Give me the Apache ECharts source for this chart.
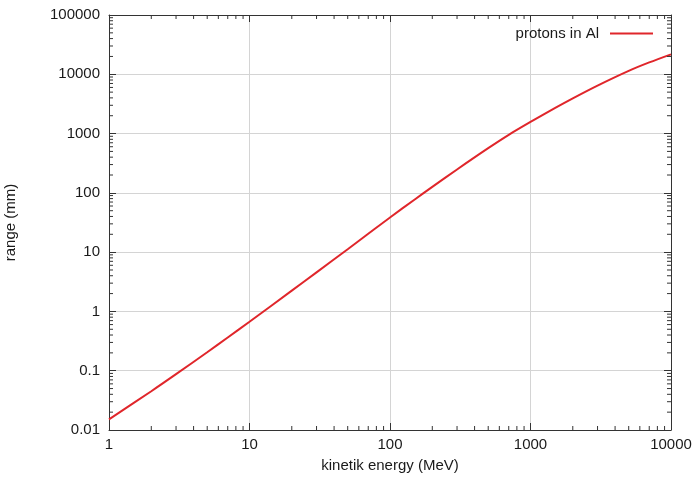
<!DOCTYPE html>
<html>
<head>
<meta charset="utf-8">
<script src="https://cdn.jsdelivr.net/npm/echarts@6/dist/echarts.min.js"></script>
<style>
  html, body { margin: 0; padding: 0; background: #fff; }
  #chart { width: 697px; height: 479px; }
</style>
</head>
<body>
<div id="chart"></div>
<script>
// CSDA range of protons in aluminium versus kinetic energy
const energy = [1, 2, 3, 5, 7, 10, 20, 30, 50, 70, 100, 150, 200, 300, 500, 700, 1000, 1500, 2000, 3000, 5000, 7000, 10000];
const range  = [0.0151, 0.0451, 0.0874, 0.205, 0.363, 0.671, 2.24, 4.56, 11.2, 20.4, 38.5, 77.3, 126, 248, 567, 952, 1570, 2710, 3930, 6450, 11430, 15850, 21700];

const seriesName = 'protons in Al';
const xTicks = [1, 10, 100, 1000, 10000];
const yTicks = [0.01, 0.1, 1, 10, 100, 1000, 10000, 100000];

// minor ticks at 2..9 within each decade
function minorTicks(majors) {
  const out = [];
  for (let i = 0; i < majors.length - 1; i++) {
    for (let k = 2; k <= 9; k++) out.push(+(majors[i] * k).toPrecision(6));
  }
  return out;
}
const xMinor = minorTicks(xTicks);
const yMinor = minorTicks(yTicks);

const FONT = '"Liberation Sans", Arial, Helvetica, sans-serif';
const FONT_SIZE = 15;
const TEXT = '#1a1a1a';
const BORDER = '#333';
const MAJOR_LEN = 7;
const MINOR_LEN = 4;

const xMin = xTicks[0], xMax = xTicks[xTicks.length - 1];
const yMin = yTicks[0], yMax = yTicks[yTicks.length - 1];

// mirrored axis on the opposite side: border line plus decade ticks
function mirrorAxis(min, max, splitNumber, position) {
  return {
    type: 'log', logBase: 10, min: min, max: max, splitNumber: splitNumber,
    position: position,
    axisLine: { show: true, onZero: false, lineStyle: { color: BORDER, width: 1 } },
    axisTick: { show: true, inside: true, length: MAJOR_LEN, lineStyle: { color: BORDER, width: 1 } },
    axisLabel: { show: false },
    splitLine: { show: false },
    silent: true
  };
}

// short inward tick marks at the minor values, on both opposite edges
function minorTickSeries(values, horizontal) {
  return {
    type: 'custom',
    silent: true,
    xAxisIndex: 0,
    yAxisIndex: 0,
    z: 5,
    data: values.map(v => [v]),
    renderItem: function (params, api) {
      const v = api.value(0);
      const style = { stroke: BORDER, lineWidth: 1 };
      let a, b;
      if (horizontal) {
        a = api.coord([v, yMin]);
        b = api.coord([v, yMax]);
        return { type: 'group', children: [
          { type: 'line', shape: { x1: a[0], y1: a[1], x2: a[0], y2: a[1] - MINOR_LEN }, style: style },
          { type: 'line', shape: { x1: b[0], y1: b[1], x2: b[0], y2: b[1] + MINOR_LEN }, style: style }
        ] };
      }
      a = api.coord([xMin, v]);
      b = api.coord([xMax, v]);
      return { type: 'group', children: [
        { type: 'line', shape: { x1: a[0], y1: a[1], x2: a[0] + MINOR_LEN, y2: a[1] }, style: style },
        { type: 'line', shape: { x1: b[0], y1: b[1], x2: b[0] - MINOR_LEN, y2: b[1] }, style: style }
      ] };
    }
  };
}

const chart = echarts.init(document.getElementById('chart'));
chart.setOption({
  animation: false,
  backgroundColor: '#fff',
  textStyle: { fontFamily: FONT },
  grid: { left: 109, right: 26, top: 15, bottom: 49, containLabel: false, outerBoundsMode: 'none' },
  legend: {
    data: [seriesName],
    right: 39,
    top: 21,
    align: 'right',
    icon: 'rect',
    itemWidth: 43,
    itemHeight: 2,
    textStyle: { fontFamily: FONT, fontSize: FONT_SIZE, color: TEXT, padding: [0, 6, 0, 0] }
  },
  xAxis: [
    {
      type: 'log', logBase: 10, min: xMin, max: xMax, splitNumber: 4,
      position: 'bottom',
      name: 'kinetik energy (MeV)', nameLocation: 'middle', nameGap: 28,
      nameTextStyle: { fontFamily: FONT, fontSize: FONT_SIZE, color: TEXT },
      axisLine: { show: true, onZero: false, lineStyle: { color: BORDER, width: 1 } },
      axisTick: { show: true, inside: true, length: MAJOR_LEN, lineStyle: { color: BORDER } },
      axisLabel: { show: true, margin: 7, fontFamily: FONT, fontSize: FONT_SIZE, color: TEXT,
        formatter: v => String(v) },
      splitLine: { show: true, lineStyle: { color: '#d4d4d4', width: 1 } }
    },
    mirrorAxis(xMin, xMax, 4, 'top')
  ],
  yAxis: [
    {
      type: 'log', logBase: 10, min: yMin, max: yMax, splitNumber: 7,
      position: 'left',
      name: 'range (mm)', nameLocation: 'middle', nameGap: 91, nameRotate: 90,
      nameTextStyle: { fontFamily: FONT, fontSize: FONT_SIZE, color: TEXT },
      axisLine: { show: true, onZero: false, lineStyle: { color: BORDER, width: 1 } },
      axisTick: { show: true, inside: true, length: MAJOR_LEN, lineStyle: { color: BORDER } },
      axisLabel: { show: true, margin: 9, fontFamily: FONT, fontSize: FONT_SIZE, color: TEXT,
        formatter: v => String(v) },
      splitLine: { show: true, lineStyle: { color: '#d4d4d4', width: 1 } }
    },
    mirrorAxis(yMin, yMax, 7, 'right')
  ],
  series: [
    {
      name: seriesName,
      type: 'line',
      xAxisIndex: 0,
      yAxisIndex: 0,
      data: energy.map((e, i) => [e, range[i]]),
      symbol: 'none',
      smooth: 0.3,
      z: 3,
      lineStyle: { color: '#e0262b', width: 2 },
      itemStyle: { color: '#e0262b' }
    },
    minorTickSeries(xMinor, true),
    minorTickSeries(yMinor, false)
  ]
});
</script>
</body>
</html>
